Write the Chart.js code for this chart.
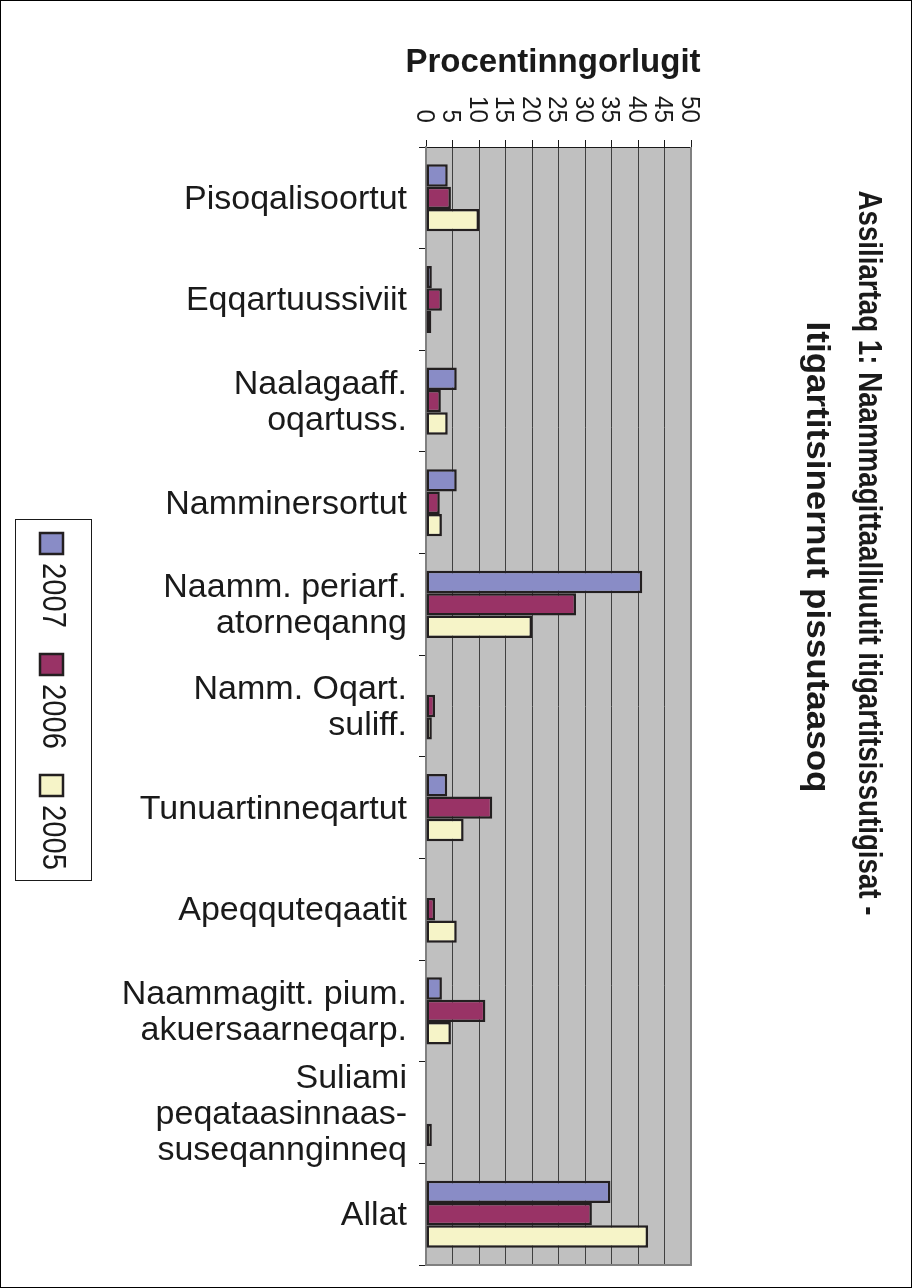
<!DOCTYPE html>
<html>
<head>
<meta charset="utf-8">
<title>Assiliartaq 1</title>
<script src="https://cdn.jsdelivr.net/npm/chart.js@4.4.1/dist/chart.umd.min.js"></script>
<style>
  html, body { margin: 0; padding: 0; background: #fff; }
  canvas { display: block; }
</style>
</head>
<body>
<canvas id="chart" width="912" height="1288"></canvas>
<script>
// Kategoriit (ataatsimut titarnerit arlallit)
var categories = [
    ['Pisoqalisoortut'],
    ['Eqqartuussiviit'],
    ['Naalagaaff.', 'oqartuss.'],
    ['Namminersortut'],
    ['Naamm. periarf.', 'atorneqanng'],
    ['Namm. Oqart.', 'suliff.'],
    ['Tunuartinneqartut'],
    ['Apeqquteqaatit'],
    ['Naammagitt. pium.', 'akuersaarneqarp.'],
    ['Suliami', 'peqataasinnaas-', 'suseqannginneq'],
    ['Allat']
];

var seriesLabels = ['2007', '2006', '2005'];
var values2007 = [4.1, 1.1, 5.8, 5.8, 40.8, 0, 4.0, 0, 3.0, 0, 34.8];
var values2006 = [4.7, 3.0, 2.8, 2.6, 28.3, 1.7, 12.5, 1.7, 11.2, 0, 31.3];
var values2005 = [10.0, 1.0, 4.1, 3.0, 20.0, 1.1, 7.1, 5.8, 4.7, 1.1, 41.9];
var xTicks = [0, 5, 10, 15, 20, 25, 30, 35, 40, 45, 50];

var axisTitle = 'Procentinngorlugit';
var titleLines = ['Assiliartaq 1: Naammagittaalliuutit itigartitsissutigisat -', 'Itigartitsinernut pissutaasoq'];

var colors = ['#898cc6', '#993366', '#f6f4c8'];
var FONT = '"Liberation Sans", Arial, Helvetica, sans-serif';

// tekstit tamarmik, legend aamma quppernerup killingi
var textPlugin = {
    id: 'textPlugin',
    beforeDraw: function(chart) {
        var ctx = chart.ctx, a = chart.chartArea;
        ctx.save();
        ctx.fillStyle = '#fff';
        ctx.fillRect(0, 0, chart.width, chart.height);
        ctx.fillStyle = '#c0c0c0';
        ctx.fillRect(a.left, a.top, a.right - a.left, a.bottom - a.top);
        ctx.restore();
    },
    afterDraw: function(chart) {
        var ctx = chart.ctx, a = chart.chartArea;
        var xs = chart.scales.x, ys = chart.scales.y;
        ctx.save();

        // plot area border (right + bottom)
        ctx.strokeStyle = '#808080';
        ctx.lineWidth = 2;
        ctx.beginPath();
        ctx.moveTo(a.right, a.top);
        ctx.lineTo(a.right, a.bottom);
        ctx.lineTo(a.left, a.bottom);
        ctx.stroke();

        ctx.fillStyle = '#1a1a1a';

        // x tick labels, rotated clockwise
        ctx.font = '26px ' + FONT;
        ctx.textAlign = 'right';
        ctx.textBaseline = 'alphabetic';
        xTicks.forEach(function(v) {
            var px = xs.getPixelForValue(v);
            ctx.save();
            ctx.translate(px - 9.5, 123);
            ctx.rotate(Math.PI / 2);
            ctx.scale(0.93, 1);
            ctx.fillText(String(v), 0, 0);
            ctx.restore();
        });

        // axis title
        ctx.font = 'bold 33px ' + FONT;
        ctx.textAlign = 'center';
        ctx.fillText(axisTitle, 553, 72);

        // category labels
        ctx.font = '34px ' + FONT;
        ctx.textAlign = 'right';
        var lineH = 36;
        categories.forEach(function(lines, i) {
            var cy = ys.getPixelForValue(i);
            var y0 = cy + 11 - (lines.length - 1) * lineH / 2;
            lines.forEach(function(t, j) {
                ctx.fillText(t, 407, y0 + j * lineH);
            });
        });

        // chart title, rotated clockwise
        ctx.font = 'bold 33px ' + FONT;
        ctx.textAlign = 'center';
        var titlePos = [[859, 553, 725], [807, 557, 471]];
        titleLines.forEach(function(t, i) {
            var p = titlePos[i];
            var w = ctx.measureText(t).width;
            ctx.save();
            ctx.translate(p[0], p[1]);
            ctx.rotate(Math.PI / 2);
            ctx.scale(p[2] / w, 1);
            ctx.fillText(t, 0, 0);
            ctx.restore();
        });

        // legend
        ctx.strokeStyle = '#1a1a1a';
        ctx.lineWidth = 1;
        ctx.strokeRect(15.5, 519.5, 76, 361);
        ctx.font = '33px ' + FONT;
        ctx.textAlign = 'left';
        seriesLabels.forEach(function(lbl, i) {
            var top = 532 + i * 121;
            ctx.fillStyle = colors[i];
            ctx.fillRect(40, top + 1, 23, 21);
            ctx.strokeStyle = '#231f20';
            ctx.lineWidth = 2.5;
            ctx.strokeRect(40, top + 1, 23, 21);
            ctx.fillStyle = '#1a1a1a';
            ctx.save();
            ctx.translate(43, top + 31);
            ctx.rotate(Math.PI / 2);
            ctx.scale(0.886, 1);
            ctx.fillText(lbl, 0, 0);
            ctx.restore();
        });

        // outer frame
        ctx.strokeStyle = '#000';
        ctx.lineWidth = 1;
        ctx.strokeRect(0.5, 0.5, chart.width - 1, chart.height - 1);
        ctx.restore();
    }
};

function makeDataset(label, values, color) {
    return {
        label: label,
        data: values,
        backgroundColor: color,
        borderColor: '#231f20',
        borderWidth: 2.5,
        borderSkipped: false,
        categoryPercentage: 0.66,
        barPercentage: 1.0
    };
}

var ctx = document.getElementById('chart').getContext('2d');
new Chart(ctx, {
    type: 'bar',
    data: {
        labels: categories,
        datasets: [
            makeDataset(seriesLabels[0], values2007, colors[0]),
            makeDataset(seriesLabels[1], values2006, colors[1]),
            makeDataset(seriesLabels[2], values2005, colors[2])
        ]
    },
    options: {
        indexAxis: 'y',
        responsive: false,
        animation: false,
        devicePixelRatio: 1,
        layout: {
            padding: { left: 419, top: 140, right: 221, bottom: 23 }
        },
        plugins: {
            legend: { display: false },
            title: { display: false },
            tooltip: { enabled: false }
        },
        scales: {
            x: {
                position: 'top',
                min: 0,
                max: 50,
                ticks: { display: false, stepSize: 5 },
                grid: {
                    color: '#404040',
                    lineWidth: 1,
                    drawTicks: true,
                    tickLength: 7,
                    tickColor: '#1a1a1a'
                },
                border: { color: '#1a1a1a', width: 1 }
            },
            y: {
                ticks: { display: false },
                grid: {
                    drawOnChartArea: false,
                    drawTicks: true,
                    tickLength: 7,
                    tickColor: '#1a1a1a'
                },
                border: { color: '#808080', width: 2 }
            }
        }
    },
    plugins: [textPlugin]
});
</script>
</body>
</html>
